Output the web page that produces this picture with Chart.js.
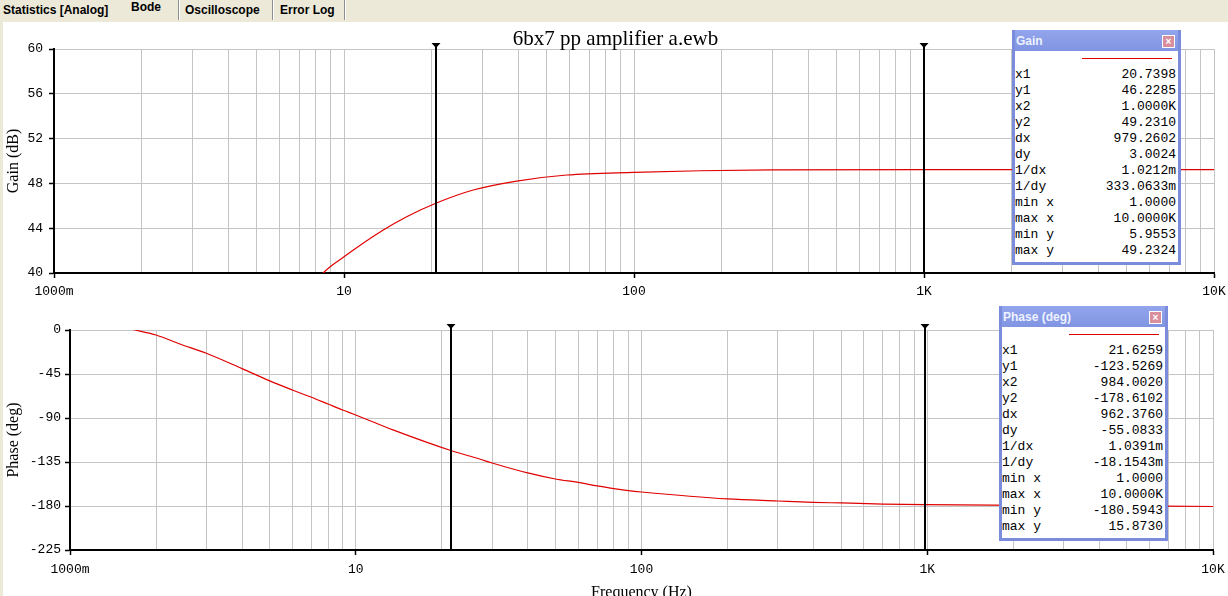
<!DOCTYPE html>
<html><head><meta charset="utf-8">
<script src="https://cdn.jsdelivr.net/npm/chart.js@4.4.1/dist/chart.umd.min.js"></script>
<style>
html,body{margin:0;padding:0;width:1228px;height:596px;overflow:hidden;background:#ECE9D8;position:relative;}
#tabs{position:absolute;left:0;top:0;width:1228px;height:22px;background:#ECE9D8;font:bold 12px "Liberation Sans",Arial,sans-serif;color:#000;}
.tab{position:absolute;top:2px;white-space:nowrap;}
.sep{position:absolute;top:0;width:1px;height:20px;background:#8E8F8F;border-right:1px solid #fff;}
#content{position:absolute;left:3px;top:22px;width:1225px;height:574px;background:#fff;}
canvas{position:absolute;left:0;}
#title{position:absolute;left:0;top:28px;width:1231px;text-align:center;font:21px "Liberation Serif","Times New Roman",serif;line-height:21px;color:#000;}
.box{position:absolute;width:163px;border:3px solid #7B8CDC;border-top:none;background:#fff;z-index:5;}
.bar{height:21px;background:linear-gradient(#93A5EC,#8094E2);position:relative;font:bold 12px "Liberation Sans",Arial,sans-serif;color:#EEF2FF;}
.bar span{position:absolute;left:1px;top:4px;}
.close{position:absolute;right:3px;top:5px;width:11px;height:11px;background:#D98E9E;border:1px solid #fff;color:#fff;font:bold 10px "Liberation Sans",Arial,sans-serif;line-height:11px;text-align:center;}
.sample{position:absolute;left:67px;width:90px;height:1px;background:#E00000;top:28px;}
.rows{position:absolute;left:0;top:37px;width:161px;font:13px "Liberation Mono","Courier New",monospace;color:#000;}
.row{height:16px;line-height:16px;display:flex;justify-content:space-between;}
</style></head><body>
<div id="tabs">
  <div class="tab" style="left:3px;top:3px">Statistics [Analog]</div>
  <div class="sep" style="left:118px;background:#ECE9D8;border-right:none"></div>
  <div class="tab" style="left:131px;top:0px">Bode</div>
  <div class="sep" style="left:178px"></div>
  <div class="tab" style="left:185px;top:3px">Oscilloscope</div>
  <div class="sep" style="left:272px"></div>
  <div class="tab" style="left:280px;top:3px">Error Log</div>
  <div class="sep" style="left:344px"></div>
</div>
<div id="content"></div>
<canvas id="gainChart" width="1228" height="300" style="top:0"></canvas>
<canvas id="phaseChart" width="1228" height="320" style="top:300px"></canvas>
<div id="title">6bx7 pp amplifier a.ewb</div>
<div class="box" id="gainBox" style="left:1012px;top:30px;height:232px"></div>
<div class="box" id="phaseBox" style="left:999px;top:306px;height:232px"></div>
<script>
// ---- data ----
const freqGain = [1, 8.48, 10, 13.66, 16.45, 20.74, 27.9, 39.4, 58.6, 100, 169, 300, 1000, 10000];
const gainDb   = [5.9553, 40.0, 41.45, 43.84, 45.03, 46.23, 47.41, 48.21, 48.75, 48.99, 49.13, 49.20, 49.23, 49.23];
const freqPhase = [1, 1.69, 2, 2.41, 3, 4, 5, 6, 7, 8, 9, 10, 13.5, 21.63, 27.1, 30, 40, 50, 60, 70, 80, 90, 100, 200, 300, 400, 500, 700, 984, 3000, 10000];
const phaseDeg  = [15.873, 0, -5.1, -14.0, -23.8, -39.5, -52.0, -61.3, -68.8, -75.7, -81.8, -86.9, -102.2, -123.5, -131.9, -136.0, -146.2, -152.4, -155.9, -159.5, -162.3, -164.3, -165.7, -172.8, -174.9, -176.3, -176.9, -178.0, -178.6, -179.6, -180.5];
const gainCursors  = [20.7398, 1000];
const phaseCursors = [21.6259, 984.002];
const decades      = [1, 10, 100, 1000, 10000];
const decadeLabels = ['1000m', '10', '100', '1K', '10K'];
const gainTicks  = [40, 44, 48, 52, 56, 60];
const phaseTicks = [-225, -180, -135, -90, -45, 0];
const gainBoxLabels  = ['x1','y1','x2','y2','dx','dy','1/dx','1/dy','min x','max x','min y','max y'];
const gainBoxValues  = ['20.7398','46.2285','1.0000K','49.2310','979.2602','3.0024','1.0212m','333.0633m','1.0000','10.0000K','5.9553','49.2324'];
const phaseBoxValues = ['21.6259','-123.5269','984.0020','-178.6102','962.3760','-55.0833','1.0391m','-18.1543m','1.0000','10.0000K','-180.5943','15.8730'];

// ---- legend boxes ----
function buildBox(id, title, labels, values){
  const el = document.getElementById(id);
  let html = '<div class="bar"><span>'+title+'</span><div class="close">×</div></div><div class="sample"></div><div class="rows">';
  labels.forEach((l,i)=>{ html += '<div class="row"><span>'+l+'</span><span>'+values[i]+'</span></div>'; });
  el.innerHTML = html + '</div>';
}
buildBox('gainBox', 'Gain', gainBoxLabels, gainBoxValues);
buildBox('phaseBox', 'Phase (deg)', gainBoxLabels, phaseBoxValues);

// ---- chart helpers ----
const xTickValues = [];
decades.slice(0, -1).forEach(d => { for (let k = 1; k <= 9; k++) xTickValues.push(d * k); });
xTickValues.push(decades[decades.length - 1]);

const monoFont = {family: '"Liberation Mono","Courier New",monospace', size: 13};
const serifFont = {family: '"Liberation Serif","Times New Roman",serif', size: 16};
const GRID = '#C4C4C4';

const cursorPlugin = {
  id: 'cursors',
  afterDatasetsDraw(chart, args, opts){
    const {ctx, chartArea, scales} = chart;
    ctx.save();
    ctx.fillStyle = '#000'; ctx.strokeStyle = '#000'; ctx.lineWidth = 2;
    (opts.values || []).forEach(v => {
      const px = Math.round(scales.x.getPixelForValue(v));
      ctx.beginPath(); ctx.moveTo(px, chartArea.top - 4); ctx.lineTo(px, chartArea.bottom); ctx.stroke();
      ctx.beginPath(); ctx.moveTo(px - 4.5, chartArea.top - 6); ctx.lineTo(px + 4.5, chartArea.top - 6); ctx.lineTo(px, chartArea.top - 1); ctx.closePath(); ctx.fill();
    });
    ctx.restore();
  }
};

function makeChart(canvasId, xs, ys, yTicks, yTitle, cursors, cfg){
  return new Chart(document.getElementById(canvasId), {
    type: 'line',
    data: { datasets: [{
      data: xs.map((x, i) => ({x, y: ys[i]})),
      borderColor: '#E00000', borderWidth: 1.2, pointRadius: 0,
      cubicInterpolationMode: 'monotone', fill: false
    }]},
    plugins: [cursorPlugin],
    options: {
      responsive: false, animation: false, devicePixelRatio: 1,
      layout: { padding: cfg.padding },
      plugins: { legend: {display: false}, tooltip: {enabled: false}, cursors: {values: cursors} },
      scales: {
        x: {
          type: 'logarithmic', min: decades[0], max: decades[decades.length - 1],
          afterBuildTicks: s => { s.ticks = xTickValues.map(v => ({value: v})); },
          afterFit: s => { s.height = cfg.xHeight; s.paddingLeft = 0; s.paddingRight = 0; },
          ticks: {
            autoSkip: false, maxRotation: 0, minRotation: 0, color: '#000', font: monoFont, padding: cfg.xPad,
            callback: v => { const i = decades.indexOf(v); return i >= 0 ? decadeLabels[i] : ''; }
          },
          grid: {
            color: GRID, lineWidth: 1, tickLength: 5, tickWidth: 1.5,
            tickColor: c => (c.tick && decades.includes(c.tick.value)) ? '#000' : 'rgba(0,0,0,0)'
          },
          border: { color: '#000', width: 2 },
          title: cfg.xTitle ? { display: true, text: cfg.xTitle, color: '#000', font: serifFont, padding: {top: 0, bottom: 18} } : {display: false}
        },
        y: {
          type: 'linear', min: yTicks[0], max: yTicks[yTicks.length - 1],
          afterBuildTicks: s => { s.ticks = yTicks.map(v => ({value: v})); },
          afterFit: s => { s.width = cfg.yWidth; s.paddingTop = 0; s.paddingBottom = 0; },
          ticks: { color: '#000', font: monoFont, padding: cfg.yPad },
          grid: { color: GRID, lineWidth: 1, tickLength: 5, tickColor: '#000', tickWidth: 1.5 },
          border: { color: '#000', width: 2 },
          title: { display: true, text: yTitle, color: '#000', font: serifFont, padding: {top: 4, bottom: 0} }
        }
      }
    }
  });
}

makeChart('gainChart', freqGain, gainDb, gainTicks, 'Gain (dB)', gainCursors,
  {padding: {top: 49, right: 14, left: 0, bottom: 0}, yWidth: 54, xHeight: 27, xPad: 6, yPad: 6});
makeChart('phaseChart', freqPhase, phaseDeg, phaseTicks, 'Phase (deg)', phaseCursors,
  {padding: {top: 30, right: 15, left: 0, bottom: 0}, yWidth: 70, xHeight: 70, xPad: 7, yPad: 4, xTitle: 'Frequency (Hz)'});
</script>
</body></html>
